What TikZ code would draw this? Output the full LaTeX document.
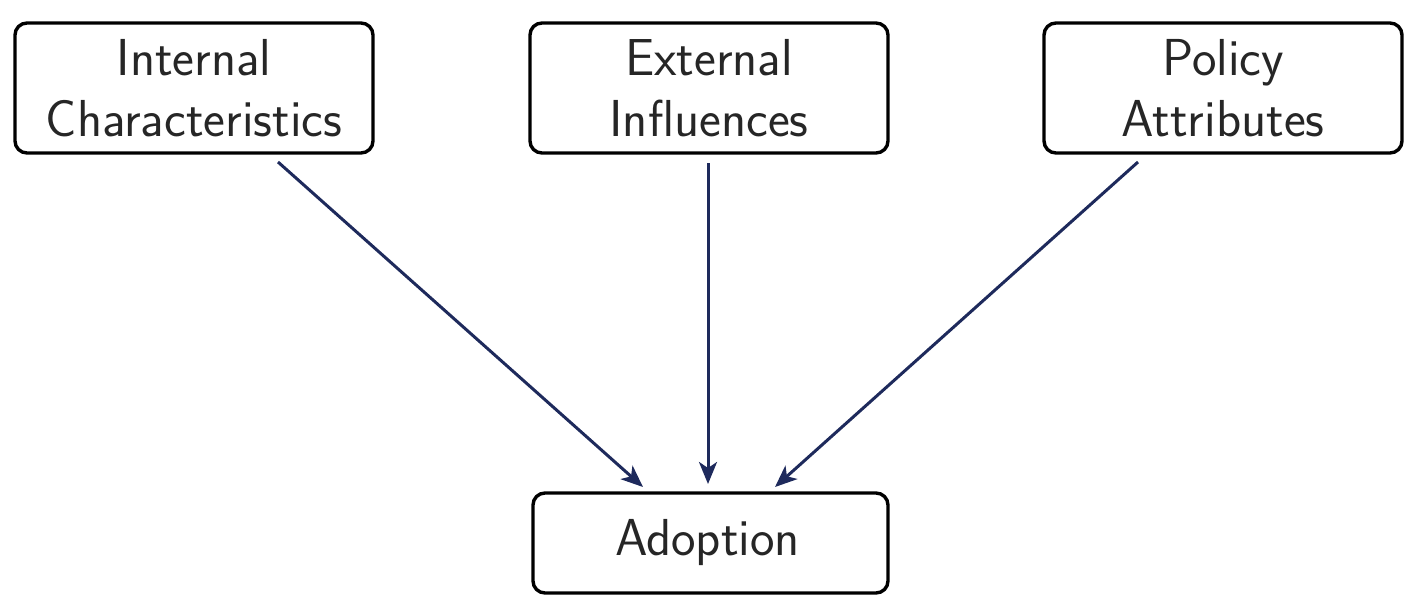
\documentclass[tikz,border=0pt]{standalone}
\usetikzlibrary{arrows.meta,calc}
\definecolor{navy}{RGB}{30,42,92}
\tikzset{
  box/.style={draw=black, line width=1.7pt, rounded corners=6pt, inner sep=0pt,
    font=\fontsize{26}{30.5}\selectfont\sffamily, align=center, text=black!85},
  link/.style={draw=navy, line width=1.5pt, -{Stealth[length=11pt,width=9pt,inset=3pt]}}
}
\begin{document}
\begin{tikzpicture}[x=0.5pt,y=-0.5pt]
\useasboundingbox (0,0) rectangle (1412,605);
\node[box, minimum width=179pt, minimum height=65pt] (int) at (194,88) {Internal\\Characteristics};
\node[box, minimum width=179pt, minimum height=65pt] (ext) at (709,88) {External\\Influences};
\node[box, minimum width=179pt, minimum height=65pt] (pol) at (1223,88) {Policy\\Attributes};
\node[box, minimum width=177.5pt, minimum height=50pt] (ado) at (710.5,543) {Adoption\hspace*{3pt}};
\coordinate (s1) at (278,162);
\coordinate (e1) at (643,487);
\coordinate (s2) at (708,163);
\coordinate (e2) at (708,484);
\coordinate (s3) at (1138,162);
\coordinate (e3) at (775,487);
\draw[link] (s1) -- (e1);
\draw[link] (s2) -- (e2);
\draw[link] (s3) -- (e3);
\end{tikzpicture}
\end{document}
